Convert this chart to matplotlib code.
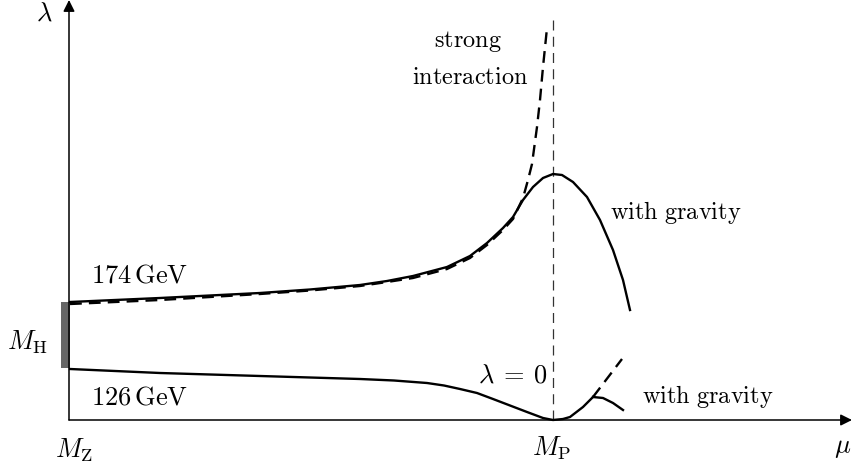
import matplotlib
matplotlib.use('Agg')
import matplotlib.pyplot as plt

plt.rcParams['mathtext.fontset'] = 'cm'
plt.rcParams['font.family'] = 'DejaVu Serif'

# coordenadas esquemáticas (mu horizontal, lambda vertical)
x_mp = 484

# 174 GeV com gravidade
x_174 = [1, 91, 191, 241, 291, 318, 344, 378, 401, 418, 434, 444, 454, 464, 474, 484,
         493, 504, 518, 531, 544, 554, 561]
y_174 = [118, 122, 127, 130.5, 135, 139, 144, 153, 164, 177, 192, 203, 220, 233, 242, 246,
         245, 238, 223, 200, 170, 140, 110]

# 174 GeV interacção forte (tracejado)
x_174d = [1, 91, 191, 241, 291, 318, 344, 378, 401, 418, 434, 444, 454, 459, 463, 468, 471, 474, 478]
y_174d = [116, 120, 126, 129.5, 134, 138, 142, 151, 162, 175, 190, 201, 222, 240, 256, 293, 320, 353, 392]

# 126 GeV
x_126 = [1, 91, 191, 291, 325, 358, 375, 391, 408, 424, 441, 458, 474, 484, 494, 501, 514, 524]
y_126 = [51, 47, 44, 41, 39.5, 37, 34.5, 31, 27, 21, 14.5, 8, 2, 0, 1, 3, 13, 23]
x_126g = [524, 534, 544, 554]
y_126g = [23, 22, 17, 10]
x_126d = [524, 553]
y_126d = [23, 61]

mh_lo, mh_hi = 52, 118

fig = plt.figure(figsize=(8.52, 4.70), dpi=100)
ax = fig.add_axes([0, 0, 1, 1])
ax.set_xlim(-69, 852 - 69)
ax.set_ylim(420 - 470, 420)
ax.axis('off')

# eixos com setas
seta = dict(arrowstyle='-|>', lw=1.1, color='black', mutation_scale=17, shrinkA=0, shrinkB=0)
ax.annotate('', xy=(0, 420), xytext=(0, 0), arrowprops=seta, annotation_clip=False)
ax.annotate('', xy=(783, 0), xytext=(0, 0), arrowprops=seta, annotation_clip=False)

# barra M_H
ax.bar(-3.5, mh_hi - mh_lo, bottom=mh_lo, width=9, color='#666666')

# linha vertical em M_P
ax.plot([x_mp, x_mp], [0, 403], color='#333333', lw=0.9, dashes=(8, 5))

ax.plot(x_174d, y_174d, color='black', lw=1.7, dashes=(5, 3), solid_joinstyle='round')
ax.plot(x_174, y_174, color='black', lw=1.7, solid_joinstyle='round')
ax.plot(x_126, y_126, color='black', lw=1.7, solid_joinstyle='round')
ax.plot(x_126g, y_126g, color='black', lw=1.7, solid_joinstyle='round')
ax.plot(x_126d, y_126d, color='black', lw=1.7, dashes=(5, 3))

fm = 19    # rótulos matemáticos
ft = 17.5  # texto
ax.text(-25, 407, r'$\lambda$', fontsize=fm, ha='center', va='center')
ax.text(774, -28, r'$\mu$', fontsize=fm, ha='center', va='center')
ax.text(5, -30, r'$M_{\mathrm{Z}}$', fontsize=fm, ha='center', va='center')
ax.text(x_mp - 1, -28, r'$M_{\mathrm{P}}$', fontsize=fm, ha='center', va='center')
ax.text(-42, 78, r'$M_{\mathrm{H}}$', fontsize=fm, ha='center', va='center')
ax.text(71, 145, r'$174\,\mathrm{GeV}$', fontsize=fm, ha='center', va='center')
ax.text(71, 23, r'$126\,\mathrm{GeV}$', fontsize=fm, ha='center', va='center')
ax.text(444, 45, r'$\lambda\:=\:0$', fontsize=fm, ha='center', va='center')
ax.text(541, 207, r'$\mathrm{with\ gravity}$', fontsize=ft, ha='left', va='center')
ax.text(573, 23, r'$\mathrm{with\ gravity}$', fontsize=ft, ha='left', va='center')
ax.text(399, 378, r'$\mathrm{strong}$', fontsize=ft, ha='center', va='center')
ax.text(401, 342, r'$\mathrm{interaction}$', fontsize=ft, ha='center', va='center')

fig.savefig('out.png', dpi=100)
